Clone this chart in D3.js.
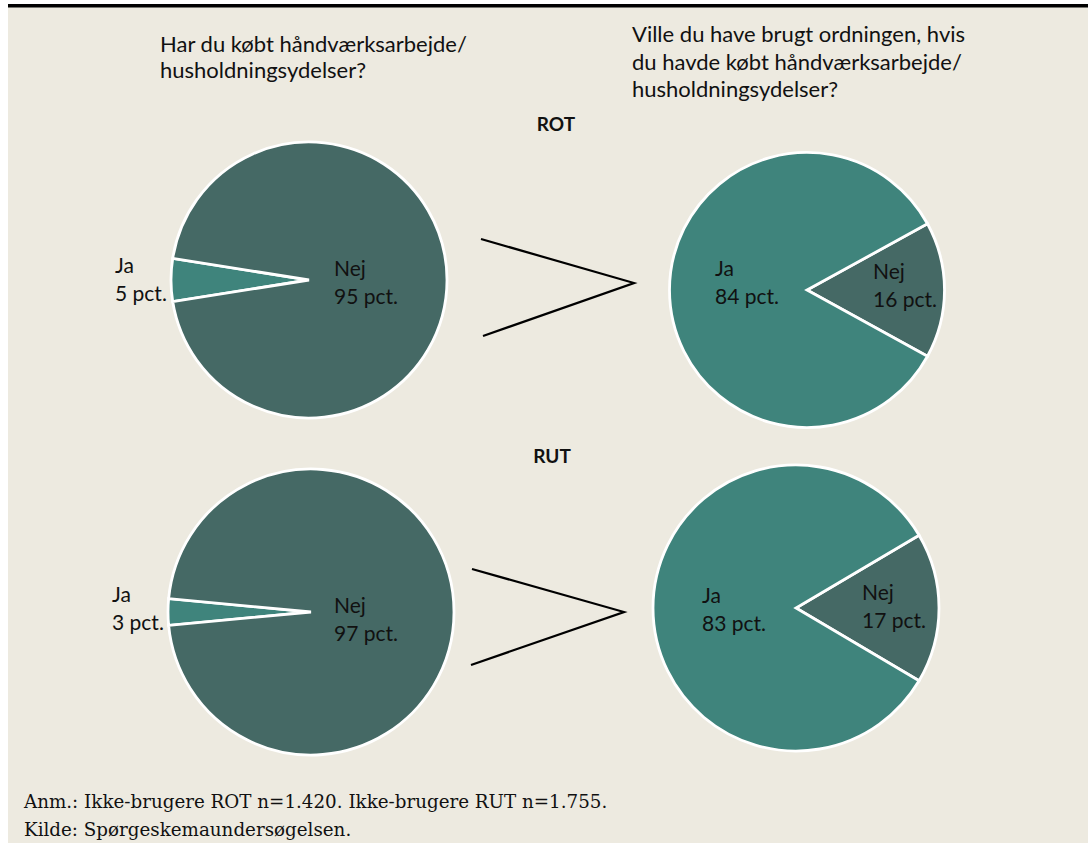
<!DOCTYPE html>
<html><head><meta charset="utf-8">
<script src="https://cdn.jsdelivr.net/npm/d3@7"></script>
<style>html,body{margin:0;padding:0;background:#fff;}svg{display:block;}</style>
</head><body>
<svg id="c" width="1088" height="843"></svg>
<script>
// ---- data ----
const categories = ["Ja", "Nej"];
const rotBought = [5, 95];
const rotWould = [84, 16];
const rutBought = [3, 97];
const rutWould = [83, 17];
const sectionTitles = ["ROT", "RUT"];
const headerLeft = ["Har du købt håndværksarbejde/", "husholdningsydelser?"];
const headerRight = ["Ville du have brugt ordningen, hvis", "du havde købt håndværksarbejde/", "husholdningsydelser?"];
const notes = ["Anm.: Ikke-brugere ROT n=1.420. Ikke-brugere RUT n=1.755.", "Kilde: Spørgeskemaundersøgelsen."];

// ---- layout ----
const W = 1088, H = 843;
const svg = d3.select("#c");
svg.append("rect").attr("x", 8).attr("y", 7).attr("width", W - 8).attr("height", H - 7).attr("fill", "#edeae0");
svg.append("rect").attr("x", 8).attr("y", 4).attr("width", W - 8).attr("height", 3.5).attr("fill", "#000");

const color = d3.scaleOrdinal().domain(categories).range(["#3f847c", "#456965"]);
const sansFont = "Lato, 'Open Sans', sans-serif";

const pies = [
  {values: rotBought, cx: 309, cy: 280, r: 138, focus: "Ja", side: "left",
   lab: {Ja: [-194, -7], Nej: [25, -4]}},
  {values: rotWould, cx: 807, cy: 290, r: 137.5, focus: "Nej", side: "right",
   lab: {Ja: [-92, -14], Nej: [66, -11]}},
  {values: rutBought, cx: 311, cy: 612, r: 143, focus: "Ja", side: "left",
   lab: {Ja: [-199, -10], Nej: [23, 1]}},
  {values: rutWould, cx: 796, cy: 608, r: 143, focus: "Nej", side: "right",
   lab: {Ja: [-94, -5], Nej: [66, -8]}}
];

pies.forEach(p => {
  const data = categories.map((c, i) => ({cat: c, v: p.values[i]}));
  const fIdx = categories.indexOf(p.focus);
  const fv = p.values[fIdx];
  const centerAngle = p.side === "left" ? 1.5 * Math.PI : 0.5 * Math.PI;
  const ordered = [data[fIdx]].concat(data.filter((d, i) => i !== fIdx));
  const start = centerAngle - (fv / 100) * Math.PI;
  const pie = d3.pie().sort(null).value(d => d.v).startAngle(start).endAngle(start + 2 * Math.PI);
  const arc = d3.arc().innerRadius(0).outerRadius(p.r);
  const g = svg.append("g").attr("transform", `translate(${p.cx},${p.cy})`);
  g.selectAll("path").data(pie(ordered)).join("path")
    .attr("d", arc)
    .attr("fill", d => color(d.data.cat))
    .attr("stroke", "#fff").attr("stroke-width", 2.8).attr("stroke-linejoin", "miter");
  data.forEach(d => {
    const o = p.lab[d.cat];
    const t = g.append("text").attr("font-family", sansFont).attr("font-size", 21).attr("fill", "#111");
    t.append("tspan").attr("x", o[0]).attr("y", o[1]).text(d.cat);
    t.append("tspan").attr("x", o[0]).attr("y", o[1] + 28).text(`${d.v} pct.`);
  });
});

// connectors
const conn = [
  [[481, 239], [634, 283], [483, 336]],
  [[472, 569], [624, 612], [471, 665]]
];
conn.forEach(pts => {
  svg.append("path").attr("d", d3.line()(pts)).attr("fill", "none").attr("stroke", "#000").attr("stroke-width", 2.2);
});

// section titles
[[556, 131], [552, 463]].forEach((pos, i) => {
  svg.append("text").attr("x", pos[0]).attr("y", pos[1]).attr("text-anchor", "middle")
    .attr("font-family", sansFont).attr("font-weight", "bold").attr("font-size", 19)
    .attr("fill", "#111").text(sectionTitles[i]);
});

// headers
headerLeft.forEach((s, i) => {
  svg.append("text").attr("x", 160).attr("y", 52 + i * 25.5).attr("font-family", sansFont)
    .attr("font-size", 22).attr("fill", "#111").text(s);
});
headerRight.forEach((s, i) => {
  svg.append("text").attr("x", 632).attr("y", 42 + i * 27.5).attr("font-family", sansFont)
    .attr("font-size", 22).attr("fill", "#111").text(s);
});

// notes
notes.forEach((s, i) => {
  svg.append("text").attr("x", 24).attr("y", 808 + i * 27.5).attr("font-family", "'DejaVu Serif', serif")
    .attr("font-size", 18.3).attr("fill", "#111").text(s);
});
</script>
</body></html>
